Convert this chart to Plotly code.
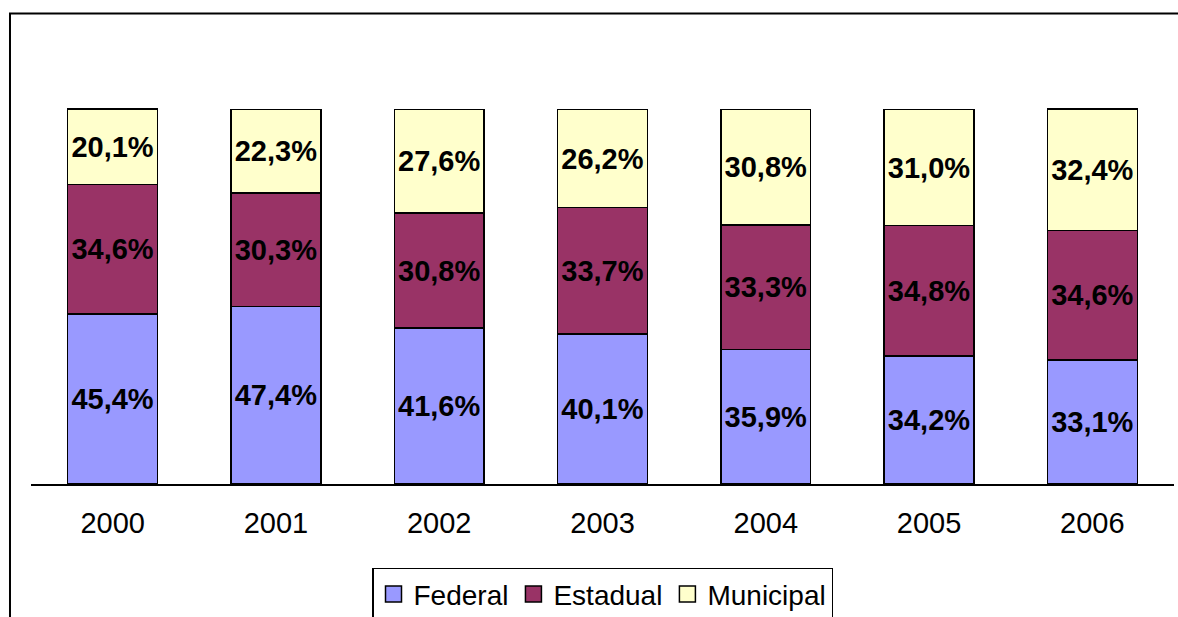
import plotly.graph_objects as go

years = ["2000", "2001", "2002", "2003", "2004", "2005", "2006"]
federal = [45.4, 47.4, 41.6, 40.1, 35.9, 34.2, 33.1]
estadual = [34.6, 30.3, 30.8, 33.7, 33.3, 34.8, 34.6]
municipal = [20.1, 22.3, 27.6, 26.2, 30.8, 31.0, 32.4]

series = [("Federal", federal, "#9999FF"),
          ("Estadual", estadual, "#993366"),
          ("Municipal", municipal, "#FFFFCC")]

def fmt(v):
    return f"{v:.1f}".replace(".", ",") + "%"

W, H = 1178, 617
L, R, T, B = 31, 4.4, 101.5, 133
pw, ph = W - L - R, H - T - B

fig = go.Figure()
for name, vals, col in series:
    fig.add_trace(go.Bar(
        x=years, y=vals, name=name, showlegend=False,
        marker=dict(color=col, line=dict(color="black", width=1.5)),
        text=[fmt(v) for v in vals], textposition="inside",
        insidetextanchor="middle", constraintext="none",
        textfont=dict(family="Liberation Sans", size=29, color="black", weight="bold"),
        hoverinfo="skip"))
for name, vals, col in series:
    fig.add_trace(go.Scatter(
        x=[None], y=[None], mode="markers", name=name,
        marker=dict(symbol="square", size=16, color=col,
                    line=dict(color="black", width=1.5))))

fig.update_layout(
    width=W, height=H, barmode="stack", bargap=0.45,
    margin=dict(l=L, r=R, t=T, b=B, pad=0, autoexpand=False),
    paper_bgcolor="white", plot_bgcolor="white",
    font=dict(family="Liberation Sans", size=29, color="black"),
    xaxis=dict(showline=True, linecolor="black", linewidth=1.5, showgrid=False,
               ticks="", ticklabelstandoff=12, tickfont=dict(size=29)),
    yaxis=dict(range=[0, 102], visible=False, showgrid=False, zeroline=False),
    legend=dict(orientation="h", x=0.5, xanchor="center",
                y=(484 - 568) / ph, yanchor="top", traceorder="normal",
                bordercolor="black", borderwidth=1.5, bgcolor="white",
                font=dict(size=28), itemwidth=30, tracegroupgap=0),
    shapes=[dict(type="rect", xref="paper", yref="paper",
                 x0=(10 - L) / pw, x1=1.2, y0=-1.0, y1=(484 - 13) / ph,
                 line=dict(color="black", width=2), layer="above")],
)

fig.write_html("out.html", config={"displayModeBar": False},
               post_script="document.body.style.margin='0';document.body.style.overflow='hidden';")
